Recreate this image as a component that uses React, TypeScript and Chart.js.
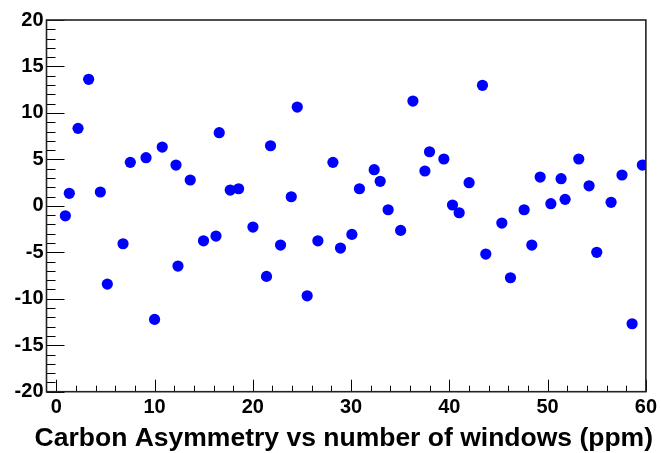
import React, { useEffect, useRef } from "react";
import { Chart, registerables } from "chart.js";

Chart.register(...registerables);

const xValues: number[] = [
  0.92, 1.32, 2.21, 3.29, 4.48, 5.19, 6.79, 7.53, 9.13, 10.0,
  10.78, 12.18, 12.38, 13.63, 14.98, 16.25, 16.58, 17.7, 18.55, 20.01,
  21.39, 21.8, 22.82, 23.91, 24.52, 25.53, 26.62, 28.15, 28.92, 30.08,
  30.85, 32.35, 32.96, 33.77, 35.04, 36.29, 37.51, 37.98, 39.44, 40.32,
  41.0, 42.01, 43.37, 43.71, 45.34, 46.22, 47.61, 48.39, 49.24, 50.33,
  51.37, 51.78, 53.17, 54.22, 55.0, 56.46, 57.57, 58.6, 59.64,
];
const yValues: number[] = [
  -1.07, 1.35, 8.34, 13.62, 1.49, -8.42, -4.08, 4.68, 5.18, -12.22,
  6.33, 4.39, -6.48, 2.78, -3.76, -3.25, 7.87, 1.7, 1.84, -2.28,
  -7.59, 6.47, -4.22, 0.98, 10.63, -9.68, -3.76, 4.68, -4.54, -3.07,
  1.84, 3.89, 2.64, -0.42, -2.64, 11.28, 3.75, 5.82, 5.04, 0.09,
  -0.74, 2.49, 12.97, -5.19, -1.85, -7.74, -0.42, -4.22, 3.1, 0.23,
  2.92, 0.7, 5.04, 2.16, -5.0, 0.38, 3.32, -12.69, 4.39,
];
const xTickValues: number[] = [0, 10, 20, 30, 40, 50, 60];
const yTickValues: number[] = [-20, -15, -10, -5, 0, 5, 10, 15, 20];
const xTitle = "Carbon Asymmetry vs number of windows (ppm)";

const FONT = "'Liberation Sans', Arial, Helvetica, sans-serif";

const rootTicks = {
  id: "rootTicks",
  afterDraw(chart: any) {
    const { ctx, chartArea } = chart;
    const xs = chart.scales.x;
    const ys = chart.scales.y;
    ctx.save();
    ctx.strokeStyle = "#000";
    ctx.lineWidth = 1;
    for (let v = -20; v <= 20; v += 1) {
      const py = Math.round(ys.getPixelForValue(v)) + 0.5;
      const len = v % 5 === 0 ? 18 : 9;
      ctx.beginPath();
      ctx.moveTo(chartArea.left, py);
      ctx.lineTo(chartArea.left + len, py);
      ctx.stroke();
    }
    for (let v = 0; v <= 60; v += 2) {
      const px = Math.round(xs.getPixelForValue(v)) + 0.5;
      const len = v % 10 === 0 ? 12 : 6;
      ctx.beginPath();
      ctx.moveTo(px, chartArea.bottom);
      ctx.lineTo(px, chartArea.bottom - len);
      ctx.stroke();
    }
    ctx.strokeStyle = "#222";
    ctx.lineWidth = 1.6;
    ctx.strokeRect(chartArea.left, chartArea.top, chartArea.right - chartArea.left, chartArea.bottom - chartArea.top);
    ctx.fillStyle = "#000";
    ctx.font = `bold 26.5px ${FONT}`;
    ctx.textAlign = "right";
    ctx.textBaseline = "alphabetic";
    ctx.fillText(xTitle, 653, 446);
    ctx.restore();
  },
};

export default function App() {
  const ref = useRef<HTMLCanvasElement | null>(null);
  useEffect(() => {
    if (!ref.current) return;
    const points = xValues.map((x, i) => ({ x, y: yValues[i] }));
    const chart = new Chart(ref.current, {
      type: "scatter",
      data: {
        datasets: [
          {
            data: points,
            backgroundColor: "#0000ff",
            borderColor: "#0000ff",
            borderWidth: 0,
            pointRadius: 5.6,
            pointHoverRadius: 5.6,
          },
        ],
      },
      options: {
        responsive: false,
        animation: false,
        events: [],
        layout: { autoPadding: false, padding: { top: 20, right: 15, left: 0, bottom: 0 } },
        plugins: { legend: { display: false }, tooltip: { enabled: false }, title: { display: false } },
        scales: {
          x: {
            type: "linear",
            min: -1,
            max: 60,
            afterFit: (s: any) => { s.height = 61.3; },
            afterBuildTicks: (s: any) => { s.ticks = xTickValues.map((v) => ({ value: v })); },
            grid: { display: false, drawTicks: false },
            border: { display: false },
            ticks: {
              color: "#000",
              padding: 4,
              maxRotation: 0,
              autoSkip: false,
              font: { family: FONT, size: 20, weight: "bold" },
            },
            title: { display: false },
          },
          y: {
            type: "linear",
            min: -20,
            max: 20,
            afterFit: (s: any) => { s.width = 46.5; },
            afterBuildTicks: (s: any) => { s.ticks = yTickValues.map((v) => ({ value: v })); },
            grid: { display: false, drawTicks: false },
            border: { display: false },
            ticks: {
              color: "#000",
              padding: 3,
              autoSkip: false,
              font: { family: FONT, size: 20, weight: "bold" },
            },
          },
        },
      },
      plugins: [rootTicks],
    });
    return () => chart.destroy();
  }, []);
  return (
    <div style={{ position: "fixed", left: 0, top: 0, width: 661, height: 453, background: "#fff" }}>
      <canvas ref={ref} width={661} height={453} style={{ display: "block" }} />
    </div>
  );
}
